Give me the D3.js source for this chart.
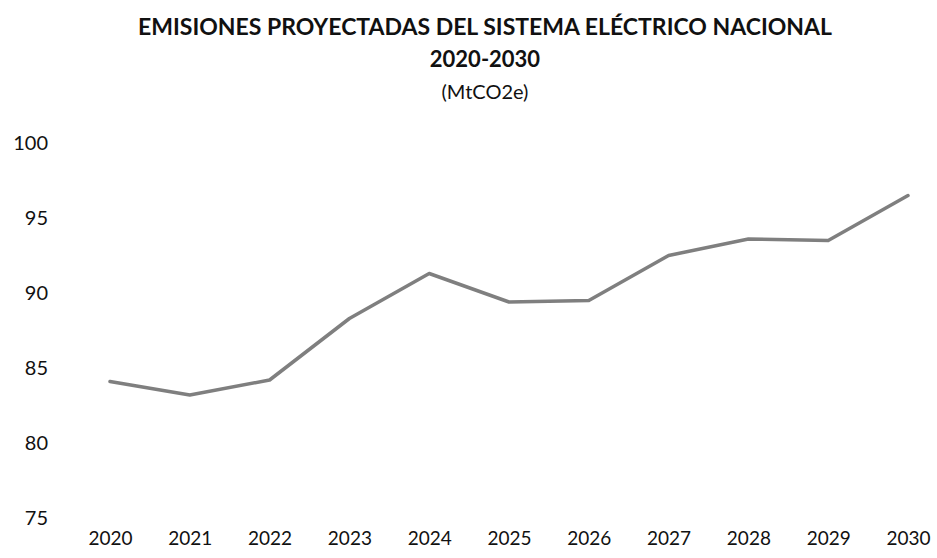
<!DOCTYPE html>
<html>
<head>
<meta charset="utf-8">
<script src="https://d3js.org/d3.v7.min.js"></script>
<style>
  body { margin: 0; background: #fff; }
  text { font-family: Lato, "Open Sans", sans-serif; fill: #111; }
</style>
</head>
<body>
<svg width="937" height="558"></svg>
<script>
// datos
const years = ["2020","2021","2022","2023","2024","2025","2026","2027","2028","2029","2030"];
const emisiones = [84.1, 83.2, 84.2, 88.3, 91.3, 89.4, 89.5, 92.5, 93.6, 93.5, 96.5];
const yTicks = [75, 80, 85, 90, 95, 100];
const titleLines = ["EMISIONES PROYECTADAS DEL SISTEMA ELÉCTRICO NACIONAL", "2020-2030", "(MtCO2e)"];

const svg = d3.select("svg");

const x = d3.scalePoint().domain(years).range([110, 908]);
const y = d3.scaleLinear().domain([75, 100]).range([518, 143]);

// titulo
svg.append("g")
    .selectAll("text")
    .data(titleLines)
    .enter().append("text")
    .attr("x", 485)
    .attr("y", (d, i) => 35 + i * 32)
    .attr("text-anchor", "middle")
    .attr("font-size", (d, i) => i == 0 ? "23px" : (i == 1 ? "22px" : "20px"))
    .attr("font-weight", (d, i) => i < 2 ? "bold" : "normal")
    .text(d => d);

// eje y (sin linea)
const yAxis = svg.append("g")
    .attr("transform", "translate(48,0)")
    .call(d3.axisLeft(y).tickValues(yTicks).tickSize(0).tickPadding(0));
yAxis.select(".domain").remove();
yAxis.selectAll("text")
    .attr("font-size", "20px")
    .style("font-family", "Lato, sans-serif")
    .attr("fill", "#111");

// eje x
const xAxis = svg.append("g")
    .attr("transform", "translate(0,531)")
    .call(d3.axisBottom(x).tickSize(0).tickPadding(0));
xAxis.select(".domain").remove();
xAxis.selectAll("text")
    .attr("font-size", "19px")
    .attr("dy", "0.71em")
    .style("font-family", "Lato, sans-serif")
    .attr("fill", "#111");

// linea
const line = d3.line()
    .x((d, i) => x(years[i]))
    .y(d => y(d));

svg.append("path")
    .datum(emisiones)
    .attr("fill", "none")
    .attr("stroke", "#7f7f7f")
    .attr("stroke-width", 3.5)
    .attr("stroke-linejoin", "round")
    .attr("stroke-linecap", "round")
    .attr("d", line);
</script>
</body>
</html>
